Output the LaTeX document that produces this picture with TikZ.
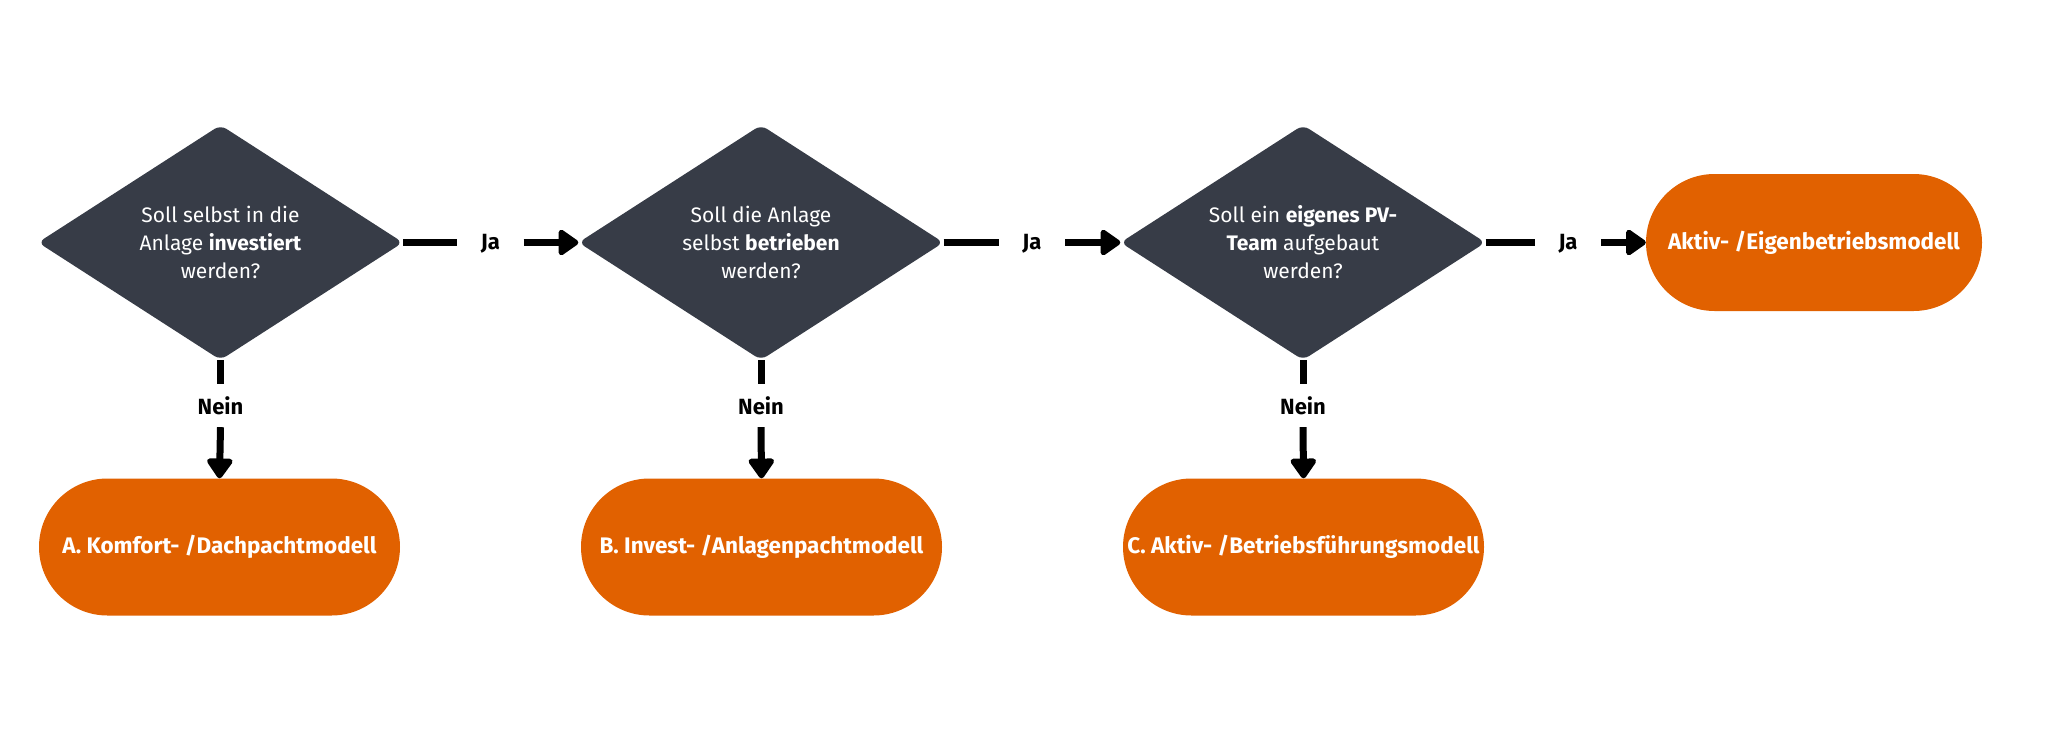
\documentclass[tikz,border=0pt]{standalone}
\usepackage{fontspec}
\setmainfont{Fira Sans}
\usetikzlibrary{shapes.geometric,arrows.meta}
\definecolor{dark}{RGB}{55,60,71}
\definecolor{orng}{RGB}{225,97,0}
\tikzset{
  question/.style={diamond, fill=dark, rounded corners=7pt, inner sep=0pt,
    minimum width=365pt, minimum height=235pt},
  qtext/.style={text=white, align=center, inner sep=0pt, font=\fontsize{21}{28}\selectfont},
  result/.style={rectangle, fill=orng, text=white, rounded corners=68.5pt, inner sep=0pt,
    minimum height=137pt, font=\fontsize{22.5}{26}\selectfont\bfseries},
  lbl/.style={inner sep=0pt, font=\fontsize{22}{24}\selectfont\bfseries, text=black},
  hlbl/.style={lbl, minimum width=66pt, minimum height=20pt},
  vlbl/.style={lbl, minimum height=43pt, minimum width=40pt},
  conn/.style={line width=7pt, draw=black},
  arr/.style={conn, -{Triangle[length=22pt,width=29pt,round]}}
}
\begin{document}
\begin{tikzpicture}[x=1pt,y=-1pt]
\useasboundingbox (0,0) rectangle (2048,737);
\node[question, label={[qtext]center:Soll selbst in die\\Anlage \textbf{investiert}\\werden?}] (d1) at (220.5,242.5) {};
\node[question, label={[qtext]center:Soll die Anlage\\selbst \textbf{betrieben}\\werden?}] (d2) at (761,242.5) {};
\node[question, label={[qtext]center:Soll ein \textbf{eigenes PV-}\\\textbf{Team} aufgebaut\\werden?}] (d3) at (1303,242.5) {};
\node[result, minimum width=361pt] (a) at (219.5,547) {A. Komfort- /Dachpachtmodell};
\node[result, minimum width=361pt] (b) at (761.5,547) {B. Invest- /Anlagenpachtmodell};
\node[result, minimum width=361pt] (c) at (1303.5,547) {C. Aktiv- /Betriebsführungsmodell};
\node[result, minimum width=336pt] (d) at (1814,242.5) {Aktiv- /Eigenbetriebsmodell};
\node[hlbl] (j1) at (490.5,244) {Ja};
\node[hlbl] (j2) at (1032,244) {Ja};
\node[hlbl] (j3) at (1568,244) {Ja};
\node[vlbl] (n1) at (220.5,405.5) {Nein};
\node[vlbl] (n2) at (761,405.5) {Nein};
\node[vlbl] (n3) at (1303,405.5) {Nein};
\draw[conn] (d1.east) -- (d1.east -| j1.west);
\draw[arr] (j1.east |- d2.west) -- (d2.west);
\draw[conn] (d2.east) -- (d2.east -| j2.west);
\draw[arr] (j2.east |- d3.west) -- (d3.west);
\draw[conn] (d3.east) -- (d3.east -| j3.west);
\draw[arr] (j3.east |- d.west) -- (d.west);
\draw[conn] (d1.south) -- (n1.north);
\draw[arr] (n1.south) -- (a.north);
\draw[conn] (d2.south) -- (n2.north);
\draw[arr] (n2.south) -- (b.north);
\draw[conn] (d3.south) -- (n3.north);
\draw[arr] (n3.south) -- (c.north);
\end{tikzpicture}
\end{document}
